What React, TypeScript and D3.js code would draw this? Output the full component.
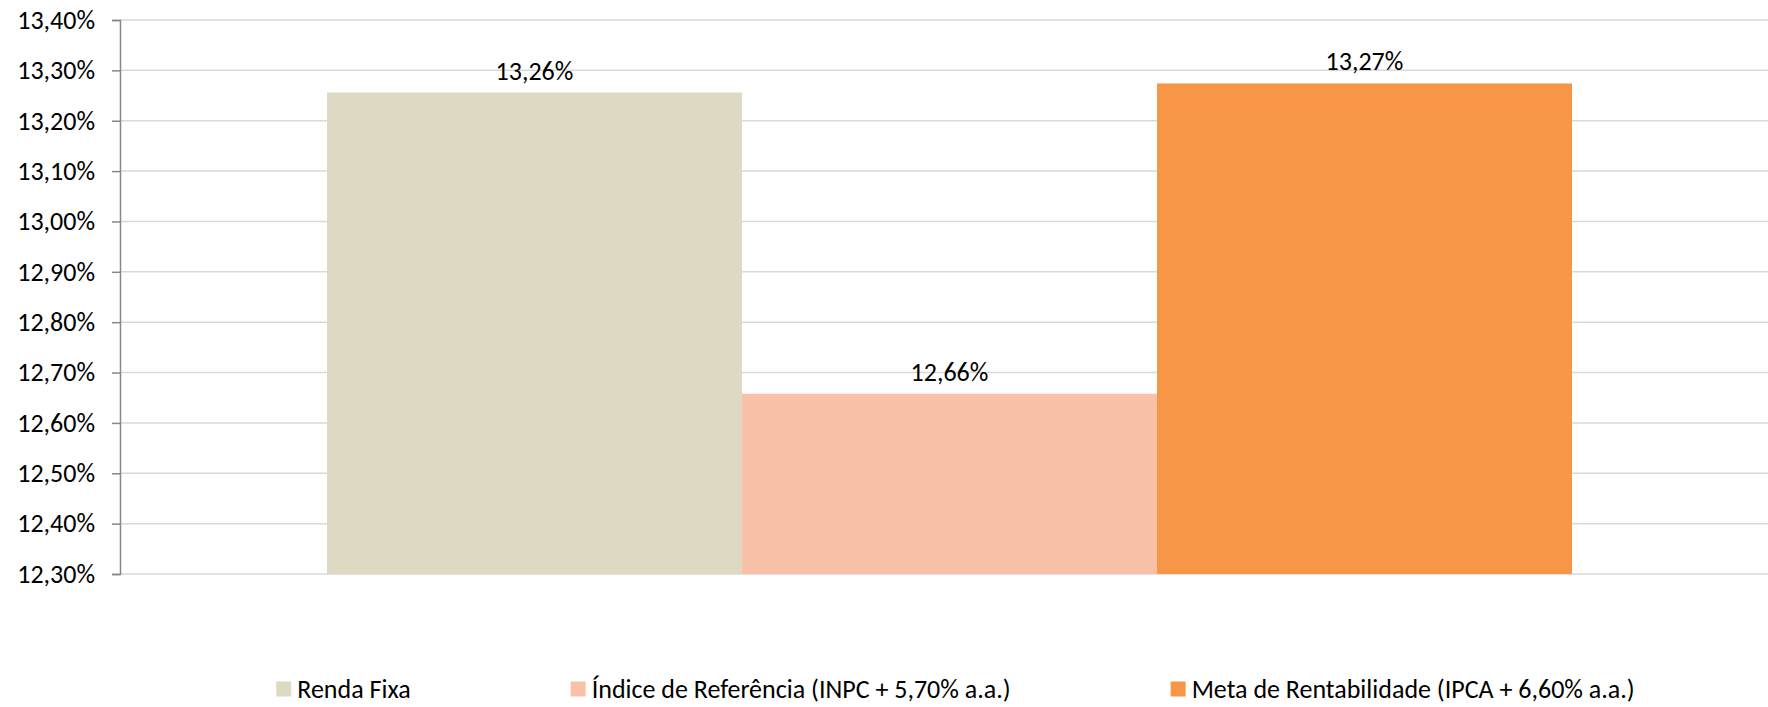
import * as d3 from "d3"
import React from "react"

const series = [
  "Renda Fixa",
  "Índice de Referência (INPC + 5,70% a.a.)",
  "Meta de Rentabilidade (IPCA + 6,60% a.a.)",
]
const values = [13.256, 12.658, 13.274]
const colors = ["#DDD9C3", "#F9C2A8", "#F79646"]
const yTicks = [12.3, 12.4, 12.5, 12.6, 12.7, 12.8, 12.9, 13.0, 13.1, 13.2, 13.3, 13.4]

const FONT = "Carlito, Calibri, 'Open Sans', sans-serif"
const fmt = (v: number) => v.toFixed(2).replace(".", ",") + "%"

const createChart = () => {
  const width = 1768
  const height = 707
  const marginLeft = 120
  const marginTop = 20
  const plotBottom = 574

  const svg = d3.select("#chart")
    .attr("width", width)
    .attr("height", height)
    .attr("viewBox", [0, 0, width, height])
    .style("position", "absolute")
    .style("left", "0px")
    .style("top", "0px")
    .style("background", "#fff")
    .style("font-family", FONT)

  svg.selectAll("*").remove()

  const y = d3.scaleLinear([12.3, 13.4], [plotBottom, marginTop])
  // bars sit side by side in the middle of the single category
  const x = d3.scaleBand(series, [327, 1572]).padding(0)

  // gridlines
  svg.append("g")
    .selectAll("line")
    .data(yTicks)
    .join("line")
    .attr("x1", marginLeft)
    .attr("x2", width)
    .attr("y1", d => y(d))
    .attr("y2", d => y(d))
    .attr("stroke", "#D9D9D9")
    .attr("stroke-width", 1.5)

  // bars
  svg.append("g")
    .selectAll("rect")
    .data(series)
    .join("rect")
    .attr("x", d => x(d)!)
    .attr("width", x.bandwidth())
    .attr("y", (d, i) => y(values[i]))
    .attr("height", (d, i) => y(12.3) - y(values[i]))
    .attr("fill", (d, i) => colors[i])

  // value labels
  svg.append("g")
    .selectAll("text")
    .data(series)
    .join("text")
    .attr("x", d => x(d)! + x.bandwidth() / 2)
    .attr("y", (d, i) => y(values[i]) - 13)
    .attr("text-anchor", "middle")
    .attr("font-size", 26)
    .attr("fill", "#000")
    .text((d, i) => fmt(values[i]))

  // y axis
  const yAxis = d3.axisLeft(y)
    .tickValues(yTicks)
    .tickSize(8)
    .tickPadding(17)
    .tickFormat(d => fmt(+d))

  svg.append("g")
    .attr("transform", `translate(${marginLeft},0)`)
    .call(yAxis)
    .call(g => g.select(".domain").attr("stroke", "#868686").attr("stroke-width", 1.5))
    .call(g => g.selectAll(".tick line").attr("stroke", "#868686").attr("stroke-width", 1.5))
    .call(g => g.selectAll(".tick text")
      .attr("font-size", 26)
      .attr("font-family", FONT)
      .attr("fill", "#000"))

  // legend
  const legend = svg.append("g")
  const gap = 160
  const items = series.map((s, i) => {
    const g = legend.append("g")
    g.append("rect")
      .attr("width", 15)
      .attr("height", 15)
      .attr("y", -7.5)
      .attr("fill", colors[i])
    const t = g.append("text")
      .attr("x", 21)
      .attr("dy", "0.33em")
      .attr("font-size", 26)
      .attr("fill", "#000")
      .text(s)
    const w = 21 + (t.node() as SVGTextElement).getComputedTextLength()
    return { g, w }
  })
  const total = d3.sum(items, d => d.w) + gap * (items.length - 1)
  let cx = 955.5 - total / 2
  items.forEach(it => {
    it.g.attr("transform", `translate(${cx},689)`)
    cx += it.w + gap
  })
}

const App = () => {
  React.useEffect(() => {
    createChart()
  }, [])

  return <svg id="chart" />
}

export default App
